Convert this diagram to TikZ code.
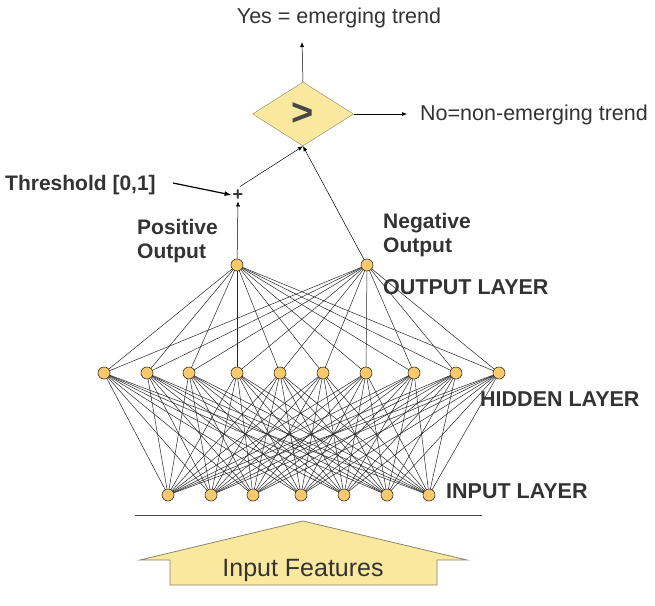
\documentclass[tikz,border=0pt]{standalone}
\usepackage{fontspec}
\setmainfont{Liberation Sans}
\usepackage{xcolor}
\usepackage{tikz}
\usetikzlibrary{shapes.geometric, arrows.meta, positioning}
\definecolor{neuron}{HTML}{F9C96A}
\definecolor{paleyellow}{HTML}{FAE89E}
\definecolor{olive}{HTML}{8C8668}
\definecolor{ink}{HTML}{333333}
\tikzset{
    neuronnode/.style={circle, draw=black!80, fill=neuron, minimum size=12pt, inner sep=0pt, line width=0.6pt},
    layerlabel/.style={anchor=west, text=ink, font=\fontsize{21.5}{24}\selectfont\bfseries, inner sep=0pt},
    outlabel/.style={anchor=west, text=ink, align=left, font=\fontsize{21}{24}\selectfont\bfseries, inner sep=0pt},
    plainlabel/.style={text=ink, font=\fontsize{21.5}{24}\selectfont, inner sep=0pt},
    weight/.style={black!85, line width=0.5pt},
    flow/.style={-{Latex[length=5pt,width=4pt]}, line width=0.5pt}
}
\begin{document}
\begin{tikzpicture}[x=1pt, y=-1pt]
    \useasboundingbox (0,0) rectangle (655,605);
    % layers
    \foreach \x [count=\i] in {168,211,253,301,344,387,429}
        \coordinate (i\i) at (\x,495);
    \foreach \x [count=\i] in {104,147,189,237,280,323,366,414,456,499}
        \coordinate (h\i) at (\x,373);
    \coordinate (o1) at (237,265);
    \coordinate (o2) at (367,265);
    % weights
    \foreach \h in {1,...,10}
        \foreach \i in {1,...,7}
            \draw[weight] (h\h) -- (i\i);
    \foreach \h in {1,...,10}
        \foreach \o in {1,2}
            \draw[weight] (o\o) -- (h\h);
    \foreach \i in {1,...,7}
        \node[neuronnode] (ni\i) at (i\i) {};
    \foreach \h in {1,...,10}
        \node[neuronnode] (nh\h) at (h\h) {};
    \node[neuronnode] (no1) at (o1) {};
    \node[neuronnode] (no2) at (o2) {};
    % layer labels
    \node[layerlabel] (outlayer) at (383,287) {OUTPUT LAYER};
    \node[layerlabel] (hidlayer) at (480,399) {HIDDEN LAYER};
    \node[layerlabel] (inlayer) at (446,491) {INPUT LAYER};
    \node[outlabel] (pos) at (137,241) {Positive\\Output};
    \node[outlabel] (neg) at (383,235) {Negative\\Output};
    % threshold and comparison
    \node[text=ink, font=\fontsize{18}{18}\selectfont\bfseries, inner sep=1pt] (plus) at (238,195) {+};
    \node[anchor=west, text=ink, font=\fontsize{21}{24}\selectfont\bfseries, inner sep=0pt] (thresh) at (5,185) {Threshold [0,1]};
    \node[diamond, draw=olive, fill=paleyellow, minimum width=101pt, minimum height=64pt, inner sep=0pt, aspect=1.58] (cmp) at (303,114) {};
    \node[text=ink!90, font=\fontsize{38}{38}\selectfont\bfseries] at (cmp) {>};
    \coordinate (yesend) at (302,42);
    \coordinate (noend) at (407,114);
    \node[plainlabel] (yes) at (339,18) {Yes = emerging trend};
    \node[plainlabel, anchor=west] (no) at (420,115) {No=non-emerging trend};
    \draw[flow, line width=1.2pt, -{Latex[length=7pt,width=5pt]}] (thresh.east) ++(17,-2) -- (plus.west);
    \draw[flow] (no1) -- (plus.south);
    \draw[flow] (plus.north) ++(2,-2) -- (cmp.south);
    \draw[flow] (no2) -- (cmp.south);
    \draw[flow] (cmp.north) -- (yesend);
    \draw[flow] (cmp.east) -- (noend);
    % input features
    \coordinate (barl) at (135,515);
    \coordinate (barr) at (482,515);
    \draw[black!70, line width=0.6pt] (barl) -- (barr);
    \draw[olive, fill=paleyellow, line width=0.8pt]
        (303,521) -- (467,560) -- (437,560) -- (437,585) -- (170,585) -- (170,560) -- (140,560) -- cycle;
    \node[text=ink, font=\fontsize{25}{27}\selectfont] (feat) at (303,570) {Input Features};
\end{tikzpicture}
\end{document}
